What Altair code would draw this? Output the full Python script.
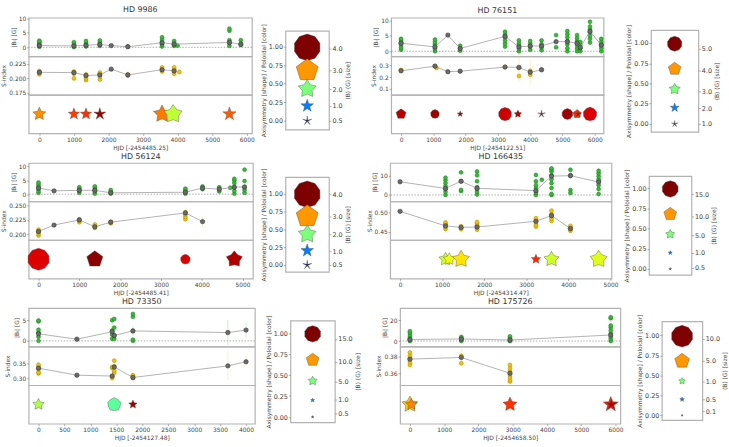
import altair as alt
import numpy as np
import pandas as pd

FONT = "DejaVu Sans"

# ---------------------------------------------------------------- HD 9986
HD9986_BL_T = [0, 1000, 1350, 1750, 2560, 3550, 3900, 4000, 5500, 5830]
HD9986_BL = [[0.2, 0.6, 1.0, 1.5, 2.0, 2.3], [0.1, 0.5, 1.0, 1.8], [0.3, 0.8, 1.4, 2.2],
             [0.5, 0.9, 1.6, 2.4], [0.3], [0.3, 1.0, 1.6, 2.6, 3.5], [0.5, 1.1, 1.6, 2.2],
             [0.6], [0.5, 1.5, 2.5, 5.8, 6.5], [0.8, 1.2, 2.5]]
HD9986_BM_T = [0, 1000, 1350, 1750, 2080, 2560, 3550, 3900, 5500, 5830]
HD9986_BM = [0.6, 0.5, 0.7, 1.0, 0.6, 0.2, 1.6, 1.1, 1.7, 1.1]
HD9986_BM_ERR = [0.5, 1.0, 0.6, 0.5, 0.3, 0.3, 0.6, 0.5, 0.6, 0.5]
HD9986_S_T = [0, 1000, 1350, 1750, 2560, 3550, 3900, 4050]
HD9986_S = [[0.207, 0.209, 0.211, 0.213], [0.200, 0.208, 0.210, 0.212], [0.197, 0.200, 0.204, 0.207],
            [0.198, 0.203, 0.207, 0.210], [0.205, 0.207], [0.212, 0.215, 0.219],
            [0.208, 0.212, 0.216, 0.219], [0.211]]
HD9986_SM_T = [0, 1000, 1350, 1750, 2080, 2560, 3550, 3900]
HD9986_SM = [0.2105, 0.210, 0.205, 0.206, 0.216, 0.206, 0.215, 0.213]
HD9986_SM_ERR = [0.005, 0.012, 0.008, 0.012, 0.003, 0.004, 0.008, 0.012]
HD9986_G_T = [0, 1000, 1350, 1750, 3550, 3870, 5500]
HD9986_G_AXI = [0.40, 0.30, 0.30, 0.20, 0.45, 0.55, 0.25]
HD9986_G_POL = [0.76, 0.85, 0.86, 0.97, 0.78, 0.58, 0.81]
HD9986_G_B = [1.05, 0.8, 0.8, 0.9, 1.8, 2.0, 1.1]
HD9986_LEG_B = [4.0, 3.0, 2.0, 1.0, 0.5]

# ---------------------------------------------------------------- HD 76151
HD76151_BL_T = [0, 1050, 1830, 3220, 3650, 4000, 4350, 4800, 5150, 5450, 5550, 5850, 6200]
HD76151_BL = [[0.5, 1.2, 2.0, 2.8, 3.5, 4.0], [0.0, 0.8, 1.5, 2.3, 3.0, 3.8], [0.2, 0.9, 1.8],
              [1.5, 2.5, 3.5, 4.5, 5.3, 6.3], [0.0, 0.8, 1.8, 2.6, 3.5], [0.5, 1.5, 2.4, 3.3],
              [0.3, 1.2, 2.3, 3.5], [1.3, 5.2], [0.0, 1.0, 2.2, 3.3, 4.5, 5.5, 6.5],
              [0.0, 1.0, 2.0, 3.2, 4.2, 5.2], [0.0, 1.0, 2.0, 3.0],
              [2.8, 4.0, 5.0, 6.0, 7.0, 8.0, 9.5], [0.0, 1.0, 2.0, 3.0, 4.0]]
HD76151_BM_T = [0, 1050, 1450, 1830, 3220, 3650, 4000, 4350, 4800, 5150, 5450, 5550, 5850, 6200]
HD76151_BM = [2.6, 1.4, 5.2, 0.9, 4.8, 1.4, 1.7, 1.7, 3.1, 3.1, 2.6, 1.2, 6.4, 2.0]
HD76151_BM_ERR = [0.6, 0.6, 0.4, 0.5, 0.6, 0.7, 0.6, 0.6, 0.8, 0.7, 0.7, 0.6, 0.9, 0.6]
HD76151_S_T = [0, 1050, 1100, 3220, 3650, 4000, 4350]
HD76151_S = [[0.258, 0.262], [0.298], [0.280], [0.290], [0.210, 0.280], [0.220, 0.255], [0.265]]
HD76151_SM_T = [0, 1050, 1450, 1830, 3220, 3650, 4000, 4350]
HD76151_SM = [0.255, 0.295, 0.247, 0.252, 0.287, 0.285, 0.243, 0.264]
HD76151_SM_ERR = [0.01, 0.01, 0.008, 0.008, 0.01, 0.12, 0.11, 0.01]
HD76151_G_T = [0, 1050, 1830, 3220, 3620, 4350, 5150, 5450, 5480, 5850]
HD76151_G_AXI = [0.75, 0.95, 0.30, 1.00, 0.45, 0.05, 1.00, 0.70, 0.05, 0.95]
HD76151_G_POL = [0.95, 0.97, 0.96, 0.93, 0.95, 0.97, 0.97, 0.86, 0.97, 0.92]
HD76151_G_B = [2.5, 1.8, 0.8, 4.0, 1.4, 1.4, 2.7, 1.8, 1.2, 4.4]
HD76151_LEG_B = [5.0, 4.0, 3.0, 2.0, 1.0]

# ---------------------------------------------------------------- HD 56124
HD56124_BL_T = [0, 1000, 1380, 1770, 3600, 4020, 4430, 4700, 4800, 5050]
HD56124_BL = [[0.5, 1.2, 2.0, 2.8, 3.5, 4.2], [0.5, 1.2, 1.9, 2.5], [0.2, 0.9, 1.6, 2.3, 2.8],
              [0.2, 0.8, 1.5], [0.2, 0.8, 1.4, 2.0], [1.8, 2.8], [1.0, 2.5], [2.3],
              [0.2, 1.2, 2.5, 4.0, 5.0, 5.5], [0.5, 1.5, 2.5, 4.7, 8.8]]
HD56124_BM_T = [0, 380, 1000, 1380, 1770, 3600, 4020, 4430, 4800, 5050]
HD56124_BM = [2.2, 1.2, 1.4, 1.4, 0.5, 0.7, 2.2, 1.8, 2.5, 2.6]
HD56124_BM_ERR = [0.6, 0.4, 0.5, 0.5, 0.4, 0.5, 0.5, 0.5, 0.8, 0.9]
HD56124_S_T = [0, 1000, 1380, 1770, 3600]
HD56124_S = [[0.198, 0.201, 0.204, 0.206, 0.208], [0.221, 0.224, 0.226], [0.211, 0.214, 0.217],
             [0.219, 0.222], [0.226, 0.230, 0.234, 0.238]]
HD56124_SM_T = [0, 380, 1000, 1380, 1770, 3600, 4020]
HD56124_SM = [0.205, 0.216, 0.225, 0.213, 0.221, 0.237, 0.222]
HD56124_SM_ERR = [0.008, 0.004, 0.005, 0.006, 0.004, 0.010, 0.010]
HD56124_G_T = [0, 1380, 3600, 4800]
HD56124_G_AXI = [1.00, 0.75, 0.95, 0.60]
HD56124_G_POL = [0.92, 0.99, 0.92, 0.96]
HD56124_G_B = [2.7, 1.6, 0.55, 1.6]
HD56124_LEG_B = [4.0, 3.0, 2.0, 1.0, 0.5]

# ---------------------------------------------------------------- HD 166435
HD166435_BL_T = [1080, 1450, 1830, 3230, 3370, 3600, 4050, 4720]
HD166435_BL = [[0.0, 1.5, 3.0, 4.5, 6.0, 7.5, 8.8], [2.0, 2.5, 7.0, 11.5],
               [0.2, 1.5, 3.0, 4.0, 7.0, 10.0, 12.0], [0.0, 1.0, 2.0, 3.5, 5.0, 7.0, 10.2], [7.7],
               [0.0, 0.5, 3.5, 6.0, 8.0, 10.0, 12.0, 13.0, 13.5], [1.0, 2.5, 10.0, 12.8],
               [0.5, 3.0, 5.0, 7.0, 8.0, 9.5, 11.0, 12.3]]
HD166435_BM_T = [0, 1080, 1450, 1830, 3230, 3600, 4050, 4720]
HD166435_BM = [6.7, 3.3, 7.0, 3.4, 2.2, 9.6, 9.8, 6.6]
HD166435_BM_ERR = [0.8, 1.0, 1.2, 1.0, 1.0, 1.5, 1.5, 1.5]
HD166435_S_T = [1080, 1450, 1830, 3230, 3600, 4050]
HD166435_S = [[0.457, 0.462, 0.467, 0.471, 0.474], [0.456, 0.460, 0.464],
              [0.455, 0.460, 0.466, 0.471, 0.475], [0.463, 0.468, 0.474, 0.480, 0.485],
              [0.478, 0.484, 0.490, 0.496, 0.505], [0.452, 0.456, 0.461, 0.465]]
HD166435_SM_T = [0, 1080, 1450, 1830, 3230, 3600, 4050]
HD166435_SM = [0.503, 0.465, 0.461, 0.462, 0.477, 0.492, 0.458]
HD166435_SM_ERR = [0.006, 0.008, 0.006, 0.008, 0.008, 0.010, 0.006]
HD166435_G_T = [1080, 1170, 1450, 3230, 3600, 4720]
HD166435_G_AXI = [0.50, 0.50, 0.50, 0.35, 0.50, 0.55]
HD166435_G_POL = [0.60, 0.64, 0.67, 0.87, 0.60, 0.62]
HD166435_G_B = [10.6, 9.0, 17.6, 5.4, 14.0, 17.6]
HD166435_LEG_B = [15.0, 10.0, 5.0, 1.0, 0.5]

# ---------------------------------------------------------------- HD 73350
HD73350_BL_T = [0, 1420, 1460, 1820]
HD73350_BL = [[0.0, 1.0, 2.0, 2.7, 4.7, 4.9], [0.5, 1.5, 2.5, 5.0], [0.5, 1.3, 3.2, 5.3],
              [0.0, 0.3, 2.4, 5.8, 6.5]]
HD73350_BM_T = [0, 740, 1420, 1460, 1820, 3650, 4000]
HD73350_BM = [1.7, 0.4, 2.2, 1.3, 2.4, 2.0, 2.6]
HD73350_BM_ERR = [1.0, 0.6, 2.5, 1.5, 1.2, 3.0, 1.8]
HD73350_S_T = [0, 1420, 1460, 1820]
HD73350_S = [[0.316, 0.320, 0.330, 0.340, 0.346], [0.300, 0.305, 0.335, 0.338],
             [0.318, 0.325, 0.340, 0.360], [0.300, 0.304, 0.308, 0.310]]
HD73350_SM_T = [0, 740, 1420, 1460, 1820, 3650, 4000]
HD73350_SM = [0.334, 0.310, 0.307, 0.338, 0.302, 0.342, 0.356]
HD73350_SM_ERR = [0.010, 0.005, 0.030, 0.020, 0.010, 0.050, 0.020]
HD73350_G_T = [0, 1460, 1820]
HD73350_G_AXI = [0.45, 0.85, 0.35]
HD73350_G_POL = [0.56, 0.46, 0.97]
HD73350_G_B = [7.8, 10.6, 4.4]
HD73350_LEG_B = [15.0, 10.0, 5.0, 1.0, 0.5]

# ---------------------------------------------------------------- HD 175726
HD175726_BL_T = [0, 1500, 2920, 5860]
HD175726_BL = [[0.0, 1.0, 2.5, 4.0, 6.0, 8.0, 9.5], [0.0, 1.0, 2.0, 3.0, 4.0],
               [0.0, 1.0, 2.0, 3.0, 4.5], [0.0, 2.0, 4.0, 7.0, 10.0, 13.0, 15.0, 22.0, 23.0]]
HD175726_BM_T = [0, 1500, 2920, 5860]
HD175726_BM = [1.5, 2.0, 1.0, 5.8]
HD175726_BM_ERR = [2.0, 2.0, 2.0, 3.0]
HD175726_S_T = [0, 1500, 2920]
HD175726_S = [[0.370, 0.373, 0.376, 0.378, 0.381, 0.385], [0.372, 0.381],
              [0.350, 0.352, 0.355, 0.358, 0.362, 0.366, 0.370]]
HD175726_SM_T = [0, 1500, 2920]
HD175726_SM = [0.377, 0.379, 0.360]
HD175726_SM_ERR = [0.006, 0.012, 0.008]
HD175726_G_T = [0, 40, 2920, 5860, 5880]
HD175726_G_AXI = [0.45, 0.40, 0.40, 0.30, 0.20]
HD175726_G_POL = [0.70, 0.77, 0.86, 0.88, 0.95]
HD175726_G_B = [6.0, 3.0, 4.6, 5.3, 2.5]
HD175726_LEG_B = [10.0, 5.0, 1.0, 0.5, 0.1]

# legend glyphs: axisymmetry == poloidal fraction for each key entry
LEG_FRAC = [1.0, 0.75, 0.5, 0.25, 0.0]
LEG_Y = [0.99, 0.68, 0.43, 0.20, 0.0]

# matplotlib "jet" colormap knots
JET_STOPS = [0, 0.11, 0.125, 0.34, 0.35, 0.375, 0.64, 0.65, 0.66, 0.89, 0.91, 1.0]
JET_COLORS = ["#00007f", "#0000ff", "#0000ff", "#00dbff", "#00e5f7", "#15ffe2",
              "#eeff08", "#f7f600", "#ffec00", "#ff1300", "#e80000", "#7f0000"]
COLOR_SCALE = alt.Scale(domain=JET_STOPS, range=JET_COLORS, interpolate="rgb")

# axisymmetry -> inner radius of the five-fold glyph (1 = decagon, 0.809 = pentagon)
AXI_KNOTS = [0.0, 0.25, 0.5, 0.75, 1.0]
INNER_KNOTS = [0.15, 0.40, 0.55, 0.809, 1.0]


def glyph_path(axi):
    q = float(np.interp(axi, AXI_KNOTS, INNER_KNOTS))
    pts = []
    for k in range(10):
        ang = np.deg2rad(-90 + 36 * k)
        r = 1.0 if k % 2 == 0 else q
        pts.append(f"{r * np.cos(ang):.3f},{r * np.sin(ang):.3f}")
    return "M" + "L".join(pts) + "Z"


STARS = [
    dict(name="HD 9986", hjd="HJD [-2454485.25]", bl_t=HD9986_BL_T, bl=HD9986_BL,
         bm_t=HD9986_BM_T, bm=HD9986_BM, bm_e=HD9986_BM_ERR, s_t=HD9986_S_T, s=HD9986_S,
         sm_t=HD9986_SM_T, sm=HD9986_SM, sm_e=HD9986_SM_ERR, g_t=HD9986_G_T, g_a=HD9986_G_AXI,
         g_p=HD9986_G_POL, g_b=HD9986_G_B, leg_b=HD9986_LEG_B,
         xdom=[-310, 6150], xticks=list(range(0, 6001, 1000)),
         bdom=[-3.1, 10.3], bticks=[0, 5, 10], sdom=[0.1717, 0.2383],
         sticks=[0.175, 0.2, 0.225], sfmt=".3f",
         leg_pos=[0.973, 0.68, 0.427, 0.2, 0.0], leg_dom=[-0.12, 1.213],
         bmax=4.0, smax=729, w=226, lw=44, lh=100, gap=4),
    dict(name="HD 76151", hjd="HJD [-2454122.51]", bl_t=HD76151_BL_T, bl=HD76151_BL,
         bm_t=HD76151_BM_T, bm=HD76151_BM, bm_e=HD76151_BM_ERR, s_t=HD76151_S_T, s=HD76151_S,
         sm_t=HD76151_SM_T, sm=HD76151_SM, sm_e=HD76151_SM_ERR, g_t=HD76151_G_T,
         g_a=HD76151_G_AXI, g_p=HD76151_G_POL, g_b=HD76151_G_B, leg_b=HD76151_LEG_B,
         xdom=[-306, 6270], xticks=list(range(0, 6001, 1000)),
         bdom=[-1.6, 10.8], bticks=[0, 5, 10], sdom=[0.048, 0.381],
         sticks=[0.1, 0.2, 0.3], sfmt=".1f",
         leg_pos=[0.93, 0.66, 0.40, 0.195, 0.0], leg_dom=[-0.098, 1.159],
         bmax=5.0, smax=225, w=215, lw=48, lh=103, gap=19),
    dict(name="HD 56124", hjd="HJD [-2454485.41]", bl_t=HD56124_BL_T, bl=HD56124_BL,
         bm_t=HD56124_BM_T, bm=HD56124_BM, bm_e=HD56124_BM_ERR, s_t=HD56124_S_T, s=HD56124_S,
         sm_t=HD56124_SM_T, sm=HD56124_SM, sm_e=HD56124_SM_ERR, g_t=HD56124_G_T,
         g_a=HD56124_G_AXI, g_p=HD56124_G_POL, g_b=HD56124_G_B, leg_b=HD56124_LEG_B,
         xdom=[-242, 5254], xticks=list(range(0, 5001, 1000)),
         bdom=[-2.6, 11.2], bticks=[0, 5, 10], sdom=[0.1903, 0.2568],
         sticks=[0.2, 0.225, 0.25], sfmt=".3f",
         leg_pos=[0.99, 0.68, 0.425, 0.19, 0.0], leg_dom=[-0.097, 1.231],
         bmax=4.0, smax=729, w=227, lw=44, lh=96, gap=5),
    dict(name="HD 166435", hjd="HJD [-2454314.47]", bl_t=HD166435_BL_T, bl=HD166435_BL,
         bm_t=HD166435_BM_T, bm=HD166435_BM, bm_e=HD166435_BM_ERR, s_t=HD166435_S_T,
         s=HD166435_S, sm_t=HD166435_SM_T, sm=HD166435_SM, sm_e=HD166435_SM_ERR,
         g_t=HD166435_G_T, g_a=HD166435_G_AXI, g_p=HD166435_G_POL, g_b=HD166435_G_B,
         leg_b=HD166435_LEG_B,
         xdom=[-235, 5025], xticks=list(range(0, 5001, 1000)),
         bdom=[-3.3, 16.3], bticks=[0, 10], sdom=[0.428, 0.529],
         sticks=[0.45, 0.5], sfmt=".2f",
         leg_pos=[0.927, 0.653, 0.416, 0.2, 0.016], leg_dom=[-0.073, 1.15],
         bmax=15.0, smax=276, w=224, lw=43, lh=100, gap=3),
    dict(name="HD 73350", hjd="HJD [-2454127.48]", bl_t=HD73350_BL_T, bl=HD73350_BL,
         bm_t=HD73350_BM_T, bm=HD73350_BM, bm_e=HD73350_BM_ERR, s_t=HD73350_S_T, s=HD73350_S,
         sm_t=HD73350_SM_T, sm=HD73350_SM, sm_e=HD73350_SM_ERR, g_t=HD73350_G_T,
         g_a=HD73350_G_AXI, g_p=HD73350_G_POL, g_b=HD73350_G_B, leg_b=HD73350_LEG_B,
         xdom=[-190, 4170], xticks=list(range(0, 4001, 500)),
         bdom=[-1.4, 7.9], bticks=[0, 5], sdom=[0.2756, 0.408],
         sticks=[0.30, 0.35], sfmt=".2f",
         leg_pos=[0.93, 0.66, 0.42, 0.21, 0.04], leg_dom=[-0.062, 1.149],
         bmax=15.0, smax=276, w=229, lw=45, lh=103, gap=8),
    dict(name="HD 175726", hjd="HJD [-2454658.50]", bl_t=HD175726_BL_T, bl=HD175726_BL,
         bm_t=HD175726_BM_T, bm=HD175726_BM, bm_e=HD175726_BM_ERR, s_t=HD175726_S_T,
         s=HD175726_S, sm_t=HD175726_SM_T, sm=HD175726_SM, sm_e=HD175726_SM_ERR,
         g_t=HD175726_G_T, g_a=HD175726_G_AXI, g_p=HD175726_G_POL, g_b=HD175726_G_B,
         leg_b=HD175726_LEG_B,
         xdom=[-288, 6140], xticks=list(range(0, 6001, 1000)),
         bdom=[-5.4, 31.7], bticks=[0, 20], sdom=[0.3456, 0.392],
         sticks=[0.36, 0.38], sfmt=".2f",
         leg_pos=[0.96, 0.68, 0.42, 0.2, 0.05], leg_dom=[-0.058, 1.177],
         bmax=10.0, smax=484, w=223, lw=41, lh=100, gap=11),
]

SUB_H = 39
ROW_GAPS = [19, 15, 14]

GREEN, GREEN_EDGE = "#36bb36", "#1d7a1d"
GOLD, GOLD_EDGE = "#f3c300", "#a98700"


def cluster_frame(times, groups):
    rows = [(t, v) for t, vals in zip(times, groups) for v in vals]
    return pd.DataFrame(rows, columns=["t", "v"])


def series(s, times, groups, mt, mv, me, ydom, yaxis, fill, edge, zero_line):
    xs = alt.Scale(domain=s["xdom"], nice=False, zero=False)
    ys = alt.Scale(domain=ydom, nice=False, zero=False)
    X = alt.X("t:Q", scale=xs, axis=None)
    Y = alt.Y("v:Q", scale=ys, axis=yaxis)
    pts = cluster_frame(times, groups)
    means = pd.DataFrame({"t": mt, "v": mv,
                          "lo": np.subtract(mv, me), "hi": np.add(mv, me)})
    layers = []
    if zero_line:
        layers.append(alt.Chart(pd.DataFrame({"v": [0.0]})).mark_rule(
            color="#9a9a9a", strokeDash=[1.5, 1.5], strokeWidth=0.8).encode(y=Y))
    layers.append(alt.Chart(means).mark_rule(color=fill, opacity=0.3, strokeWidth=0.8).encode(
        x=X, y=alt.Y("lo:Q", scale=ys, axis=yaxis), y2="hi:Q"))
    layers.append(alt.Chart(pts).mark_point(
        filled=True, shape="circle", size=16, color=fill, stroke=edge, strokeWidth=0.5,
        opacity=1).encode(x=X, y=Y))
    layers.append(alt.Chart(means).mark_line(color="#a0a0a0", strokeWidth=0.8).encode(x=X, y=Y))
    layers.append(alt.Chart(means).mark_point(
        filled=True, shape="circle", size=20, color="#6b6b6b", stroke="#262626",
        strokeWidth=0.5, opacity=1).encode(x=X, y=Y))
    return alt.layer(*layers).properties(width=s["w"], height=SUB_H)


def size_scale(s):
    return alt.Scale(domain=[0, s["bmax"]], range=[0, s["smax"]])


def glyph_strip(s):
    g = pd.DataFrame({"t": s["g_t"], "a": s["g_a"], "p": s["g_p"], "B": s["g_b"]})
    g["shape"] = [glyph_path(a) for a in g["a"]]
    g["y"] = 0.0
    return alt.Chart(g).mark_point(filled=True, opacity=1, stroke="#4a4a4a",
                                   strokeWidth=0.4).encode(
        x=alt.X("t:Q", scale=alt.Scale(domain=s["xdom"], nice=False, zero=False),
                axis=alt.Axis(values=s["xticks"], format="d", title=s["hjd"])),
        y=alt.Y("y:Q", scale=alt.Scale(domain=[-1, 1]), axis=None),
        shape=alt.Shape("shape:N", scale=None),
        color=alt.Color("p:Q", scale=COLOR_SCALE, legend=None),
        size=alt.Size("B:Q", scale=size_scale(s), legend=None),
    ).properties(width=s["w"], height=SUB_H)


def label_expr(pos, labels):
    order = sorted(zip(pos, labels), reverse=True)
    parts = [f"datum.value > {(p0 + p1) / 2:.4f} ? '{l0}' : "
             for (p0, l0), (p1, _) in zip(order, order[1:])]
    return "".join(parts) + f"'{order[-1][1]}'"


def key_panel(s):
    lg = pd.DataFrame({"x": 0.0, "y": LEG_Y, "p": LEG_FRAC, "B": s["leg_b"],
                       "lp": s["leg_pos"]})
    lg["shape"] = [glyph_path(a) for a in LEG_FRAC]
    labels = [f"{b:.1f}" for b in s["leg_b"]]
    ydom = alt.Scale(domain=s["leg_dom"], nice=False, zero=False)
    glyphs = alt.Chart(lg).mark_point(filled=True, opacity=1, stroke="#4a4a4a",
                                      strokeWidth=0.4).encode(
        x=alt.X("x:Q", scale=alt.Scale(domain=[-1, 1]), axis=None),
        y=alt.Y("y:Q", scale=ydom,
                axis=alt.Axis(values=[0, 0.25, 0.5, 0.75, 1.0], format=".2f",
                              title="Axisymmetry [shape] / Poloidal [color]",
                              labelFontSize=6.5, titleFontSize=6)),
        shape=alt.Shape("shape:N", scale=None),
        color=alt.Color("p:Q", scale=COLOR_SCALE, legend=None),
        size=alt.Size("B:Q", scale=size_scale(s), legend=None),
    )
    right = alt.Chart(lg).mark_point(opacity=0).encode(
        y=alt.Y("lp:Q", scale=ydom,
                axis=alt.Axis(orient="right", values=s["leg_pos"],
                              labelExpr=label_expr(s["leg_pos"], labels),
                              title="⟨B⟩ (G) [size]", titleAngle=270, titleBaseline="top",
                              labelFontSize=6.5, titleFontSize=6)),
    )
    return alt.layer(glyphs, right).resolve_scale(y="independent").properties(
        width=s["lw"], height=s["lh"])


def star_panel(s):
    top = series(s, s["bl_t"], s["bl"], s["bm_t"], s["bm"], s["bm_e"], s["bdom"],
                 alt.Axis(values=s["bticks"], format="d", title="|Bₗ| [G]"),
                 GREEN, GREEN_EDGE, True).properties(
        title=alt.TitleParams(s["name"], frame="group", anchor="middle"))
    mid = series(s, s["s_t"], s["s"], s["sm_t"], s["sm"], s["sm_e"], s["sdom"],
                 alt.Axis(values=s["sticks"], format=s["sfmt"], title="S-index"),
                 GOLD, GOLD_EDGE, False)
    main = alt.vconcat(top, mid, glyph_strip(s), spacing=0, bounds="flush")
    return alt.hconcat(main, key_panel(s), spacing=s["gap"], center=True)


rows = []
for i in range(3):
    rows.append(alt.hconcat(star_panel(STARS[2 * i]), star_panel(STARS[2 * i + 1]),
                            spacing=ROW_GAPS[i]).resolve_scale(size="independent"))

chart = alt.vconcat(*rows, spacing=1).resolve_scale(size="independent").properties(
    padding={"left": 0, "top": 2, "right": 0, "bottom": 0}
).configure(font=FONT).configure_view(
    stroke="#b3b3b3", strokeWidth=1.2
).configure_axis(
    grid=False, domain=False, labelFontSize=6, titleFontSize=6, labelColor="#444",
    titleColor="#444", tickColor="#777", tickSize=2, tickWidth=0.6, labelPadding=1,
    titlePadding=2, titleFontWeight="normal", labelFont=FONT, titleFont=FONT
).configure_title(
    fontSize=8, fontWeight="normal", color="#333", offset=2, font=FONT
)

chart.save("out.html", embed_options={"renderer": "svg", "actions": False})
